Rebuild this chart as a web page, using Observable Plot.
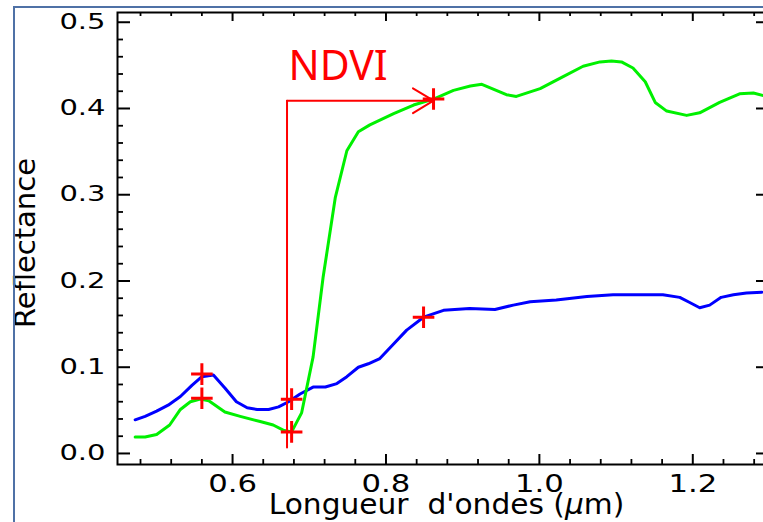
<!DOCTYPE html>
<html>
<head>
<meta charset="utf-8">
<script src="https://cdn.jsdelivr.net/npm/d3@7"></script>
<script src="https://cdn.jsdelivr.net/npm/@observablehq/plot@0.6"></script>
<style>
  html, body { margin: 0; padding: 0; background: #fff; overflow: hidden; width: 763px; height: 522px; }
  #wrap { position: relative; width: 763px; height: 522px; overflow: hidden; }
  #slide { position: absolute; left: 13px; top: 6px; width: 2000px; height: 2000px;
           border-left: 2px solid #4f71a6; border-top: 2px solid #4f71a6; pointer-events: none; }
  svg text { white-space: pre; }
</style>
</head>
<body>
<div id="wrap"><div id="chart"></div><div id="slide"></div></div>
<script>
// ---- data ----
const soilWl = [0.473, 0.486, 0.501, 0.516, 0.532, 0.547, 0.560, 0.575, 0.590, 0.605, 0.619, 0.632, 0.647, 0.660, 0.673, 0.688, 0.705, 0.721, 0.736, 0.749, 0.764, 0.777, 0.792, 0.809, 0.827, 0.849, 0.875, 0.909, 0.942, 0.966, 0.988, 1.022, 1.062, 1.096, 1.127, 1.161, 1.183, 1.196, 1.209, 1.222, 1.237, 1.253, 1.270, 1.290];
const soilRefl = [0.039, 0.043, 0.049, 0.056, 0.066, 0.079, 0.089, 0.091, 0.076, 0.060, 0.053, 0.051, 0.051, 0.054, 0.060, 0.069, 0.077, 0.077, 0.081, 0.089, 0.100, 0.104, 0.110, 0.126, 0.143, 0.158, 0.166, 0.168, 0.167, 0.172, 0.176, 0.178, 0.182, 0.184, 0.184, 0.184, 0.181, 0.175, 0.169, 0.172, 0.181, 0.184, 0.186, 0.187];

const vegWl = [0.473, 0.486, 0.501, 0.518, 0.532, 0.545, 0.558, 0.569, 0.590, 0.610, 0.636, 0.653, 0.666, 0.677, 0.690, 0.705, 0.718, 0.734, 0.749, 0.764, 0.779, 0.810, 0.836, 0.862, 0.888, 0.910, 0.925, 0.957, 0.970, 1.001, 1.031, 1.057, 1.079, 1.094, 1.107, 1.122, 1.138, 1.151, 1.166, 1.192, 1.209, 1.235, 1.261, 1.279, 1.292];
const vegRefl = [0.019, 0.019, 0.022, 0.033, 0.051, 0.060, 0.063, 0.061, 0.048, 0.043, 0.037, 0.033, 0.027, 0.025, 0.047, 0.112, 0.204, 0.297, 0.351, 0.373, 0.381, 0.394, 0.404, 0.411, 0.421, 0.426, 0.428, 0.416, 0.414, 0.423, 0.437, 0.449, 0.454, 0.455, 0.454, 0.447, 0.431, 0.407, 0.397, 0.392, 0.395, 0.407, 0.417, 0.418, 0.415];

const markWl = [0.560, 0.560, 0.677, 0.677, 0.849, 0.862];
const markRefl = [0.092, 0.064, 0.063, 0.025, 0.158, 0.411];

const ndviWl = [0.671, 0.862];        // red band, NIR band of the bracket
const ndviRefl = [0.007, 0.409];      // bottom, top of the bracket

const xMajor = [0.6, 0.8, 1.0, 1.2];
const xMinor = [0.48, 0.52, 0.56, 0.64, 0.68, 0.72, 0.76, 0.84, 0.88, 0.92, 0.96, 1.04, 1.08, 1.12, 1.16, 1.24, 1.28];
const yMajor = [0.0, 0.1, 0.2, 0.3, 0.4, 0.5];
const yMinor = [0.02, 0.04, 0.06, 0.08, 0.12, 0.14, 0.16, 0.18, 0.22, 0.24, 0.26, 0.28, 0.32, 0.34, 0.36, 0.38, 0.42, 0.44, 0.46, 0.48];

const xTitle = "Longueur\u00a0\u00a0d'ondes (\u00b5m)";
const yTitle = "Reflectance";
const ndviLabel = "NDVI";

// ---- tables ----
const soil = soilWl.map((x, i) => ({x, y: soilRefl[i]}));
const veg = vegWl.map((x, i) => ({x, y: vegRefl[i]}));
const marks = markWl.map((x, i) => ({x, y: markRefl[i]}));
const bracket = [
  {x: ndviWl[0], y: ndviRefl[0]},
  {x: ndviWl[0], y: ndviRefl[1]}
];
const arrow = [{x1: ndviWl[0], y1: ndviRefl[1], x2: ndviWl[1], y2: ndviRefl[1]}];

const W = 780, H = 522, mL = 117, mR = 11, mT = 12, mB = 58;
const PW = W - mL - mR, PH = H - mT - mB;
const font = "DejaVu Sans";

const svg = Plot.plot({
  width: W, height: H,
  marginLeft: mL, marginRight: mR, marginTop: mT, marginBottom: mB,
  style: {fontFamily: font, maxWidth: "none", background: "transparent", overflow: "visible"},
  x: {domain: [0.45, 1.30], axis: null},
  y: {domain: [-0.0128, 0.5113], axis: null},
  marks: [
    // ticks (inward on all four sides)
    Plot.tickX(xMajor, {x: d => d, stroke: "black", strokeWidth: 2, insetTop: PH - 10}),
    Plot.tickX(xMinor, {x: d => d, stroke: "black", strokeWidth: 1.8, insetTop: PH - 5}),
    Plot.tickX(xMajor, {x: d => d, stroke: "black", strokeWidth: 2, insetBottom: PH - 9}),
    Plot.tickX(xMinor, {x: d => d, stroke: "black", strokeWidth: 1.8, insetBottom: PH - 4}),
    Plot.tickY(yMajor, {y: d => d, stroke: "black", strokeWidth: 2, insetRight: PW - 13}),
    Plot.tickY(yMinor, {y: d => d, stroke: "black", strokeWidth: 1.8, insetRight: PW - 6}),
    Plot.tickY(yMajor, {y: d => d, stroke: "black", strokeWidth: 2, insetLeft: PW - 13}),
    Plot.tickY(yMinor, {y: d => d, stroke: "black", strokeWidth: 1.8, insetLeft: PW - 6}),
    Plot.frame({stroke: "black", strokeWidth: 2}),
    // tick labels
    Plot.text(xMajor, {x: d => d, frameAnchor: "bottom", lineAnchor: "middle", textAnchor: "middle", dy: 19.5,
      text: d => d.toFixed(1), fontSize: 24, fill: "black", ariaDescription: "xtl"}),
    Plot.text(yMajor, {y: d => d, frameAnchor: "left", lineAnchor: "middle", textAnchor: "end", dx: -12,
      text: d => d.toFixed(1), fontSize: 21, fill: "black", ariaDescription: "ytl"}),
    // axis titles
    Plot.text([xTitle], {frameAnchor: "bottom", lineAnchor: "middle", textAnchor: "middle", dy: 41, dx: 3,
      text: d => d, fontSize: 28, fill: "black", ariaDescription: "xtitle"}),
    Plot.text([yTitle], {frameAnchor: "left", lineAnchor: "middle", textAnchor: "middle", dx: -92, dy: 4.5, rotate: -90,
      text: d => d, fontSize: 29, fill: "black", ariaDescription: "ytitle"}),
    // spectra
    Plot.line(soil, {x: "x", y: "y", stroke: "#0000ff", strokeWidth: 3}),
    Plot.line(veg, {x: "x", y: "y", stroke: "#00f000", strokeWidth: 3}),
    // NDVI bracket
    Plot.line(bracket, {x: "x", y: "y", stroke: "#ff0000", strokeWidth: 2}),
    Plot.arrow(arrow, {x1: "x1", y1: "y1", x2: "x2", y2: "y2", stroke: "#ff0000", strokeWidth: 2,
      headLength: 18, headAngle: 62}),
    Plot.text([ndviLabel], {x: () => 0.673, y: () => 0.4336, text: d => d, textAnchor: "start", lineAnchor: "bottom",
      fontSize: 41, fontFamily: "Noto Sans", fill: "#ff0000", ariaDescription: "ndvi"}),
    // band markers
    Plot.dot(marks, {x: "x", y: "y", symbol: "plus", r: 7, stroke: "#ff0000", strokeWidth: 3})
  ]
});

document.getElementById("chart").appendChild(svg);

// locate a text mark's group (by its description, falling back on mark order)
const textOrder = ["xtl", "ytl", "xtitle", "ytitle", "ndvi"];
function textGroup(name) {
  let g = svg.querySelector(`g[aria-description="${name}"]`);
  if (!g) {
    const all = svg.querySelectorAll('g[aria-label="text"]');
    g = all[textOrder.indexOf(name)];
  }
  return g;
}

// horizontal stretch of the tick/axis labels, as in the reference
function stretch(name, sx) {
  const g = textGroup(name);
  if (!g) return;
  g.querySelectorAll("text").forEach(t => {
    const tr = t.getAttribute("transform") || "";
    t.setAttribute("transform", tr + ` scale(${sx},1)`);
  });
}
stretch("xtl", 1.28);
stretch("ytl", 1.38);
stretch("xtitle", 1.06);

// italic Greek mu in the x title
{
  const g = textGroup("xtitle");
  if (g) g.querySelectorAll("text").forEach(node => {
    const s = d3.select(node);
    const txt = s.text();
    const k = txt.indexOf("\u00b5");
    if (k < 0) return;
    s.text(null);
    s.append("tspan").text(txt.slice(0, k));
    s.append("tspan").attr("font-style", "italic").text(txt.slice(k, k + 1));
    s.append("tspan").text(txt.slice(k + 1));
  });
}
</script>
</body>
</html>
